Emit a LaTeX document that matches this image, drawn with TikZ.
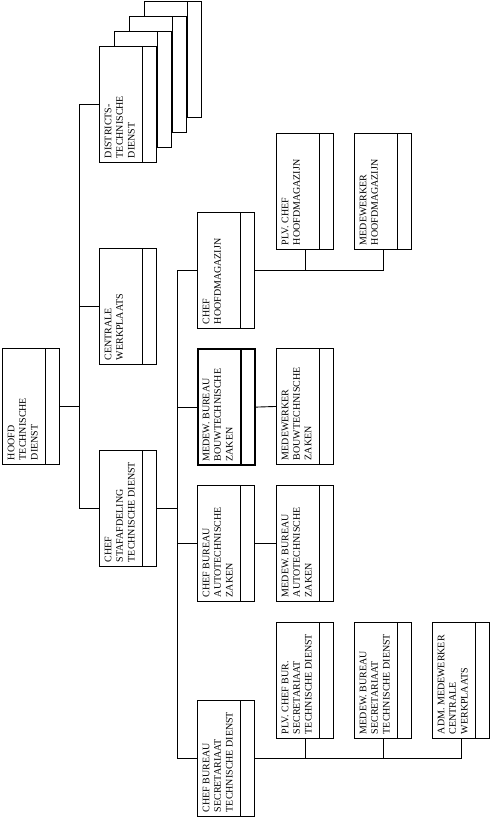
\documentclass[tikz,border=0pt]{standalone}
\usepackage{fontspec}
\setmainfont{Liberation Serif}
\begin{document}
\begin{tikzpicture}[x=1pt,y=-1pt,
  ln/.style={line width=0.9pt},
  box/.style={draw, fill=white, line width=0.9pt, minimum width=57pt, minimum height=116pt,
    inner sep=0pt, anchor=north west,
    path picture={\draw[line width=0.9pt] ([xshift=-14pt]path picture bounding box.north east) -- ([xshift=-14pt]path picture bounding box.south east);}},
  thickbox/.style={draw, fill=white, line width=2.2pt, minimum width=57pt, minimum height=116pt,
    inner sep=0pt, anchor=north west,
    path picture={\draw[line width=2.2pt] ([xshift=-14pt]path picture bounding box.north east) -- ([xshift=-14pt]path picture bounding box.south east);}},
  txt/.style={rotate=90, anchor=north west, align=left, inner sep=0pt,
    font=\fontsize{10}{11.6}\selectfont}
]
\useasboundingbox (0,0) rectangle (491,818);

% boxes
\node[box] (hoofd) at (2,348) {};
\node[box] (d4) at (144,1) {};
\node[box] (d3) at (129,16) {};
\node[box] (d2) at (114,31) {};
\node[box] (dist) at (99,46) {};
\node[box] (cw) at (99,248) {};
\node[box] (staf) at (99,450) {};
\node[box] (hm) at (197,212) {};
\node[thickbox] (bouw) at (197,348) {};
\node[box] (auto) at (197,485) {};
\node[box] (sec) at (197,700) {};
\node[box] (plvhm) at (276,133) {};
\node[box] (medhm) at (354,133) {};
\node[box] (medbouw) at (276,348) {};
\node[box] (medauto) at (276,485) {};
\node[box] (plvsec) at (276,622) {};
\node[box] (medsec) at (354,622) {};
\node[box] (adm) at (432,622) {};

% texts
\node[txt] (hoofd-t) at ([xshift=5.5pt,yshift=4.5pt]hoofd.south west) {HOOFD\\TECHNISCHE\\DIENST};
\node[txt] (dist-t) at ([xshift=5.5pt,yshift=4.5pt]dist.south west) {DISTRICTS-\\TECHNISCHE\\DIENST};
\node[txt] (cw-t) at ([xshift=5.5pt,yshift=4.5pt]cw.south west) {CENTRALE\\WERKPLAATS};
\node[txt] (staf-t) at ([xshift=5.5pt,yshift=4.5pt]staf.south west) {CHEF\\STAFAFDELING\\TECHNISCHE DIENST};
\node[txt] (hm-t) at ([xshift=5.5pt,yshift=4.5pt]hm.south west) {CHEF\\HOOFDMAGAZIJN};
\node[txt] (bouw-t) at ([xshift=5.5pt,yshift=4.5pt]bouw.south west) {MEDEW. BUREAU\\BOUWTECHNISCHE\\ZAKEN};
\node[txt] (auto-t) at ([xshift=5.5pt,yshift=4.5pt]auto.south west) {CHEF BUREAU\\AUTOTECHNISCHE\\ZAKEN};
\node[txt] (sec-t) at ([xshift=5.5pt,yshift=4.5pt]sec.south west) {CHEF BUREAU\\SECRETARIAAT\\TECHNISCHE DIENST};
\node[txt] (plvhm-t) at ([xshift=5.5pt,yshift=4.5pt]plvhm.south west) {PLV. CHEF\\HOOFDMAGAZIJN};
\node[txt] (medhm-t) at ([xshift=5.5pt,yshift=4.5pt]medhm.south west) {MEDEWERKER\\HOOFDMAGAZIJN};
\node[txt] (medbouw-t) at ([xshift=5.5pt,yshift=4.5pt]medbouw.south west) {MEDEWERKER\\BOUWTECHNISCHE\\ZAKEN};
\node[txt] (medauto-t) at ([xshift=5.5pt,yshift=4.5pt]medauto.south west) {MEDEW. BUREAU\\AUTOTECHNISCHE\\ZAKEN};
\node[txt] (plvsec-t) at ([xshift=5.5pt,yshift=4.5pt]plvsec.south west) {PLV. CHEF BUR.\\SECRETARIAAT\\TECHNISCHE DIENST};
\node[txt] (medsec-t) at ([xshift=5.5pt,yshift=4.5pt]medsec.south west) {MEDEW. BUREAU\\SECRETARIAAT\\TECHNISCHE DIENST};
\node[txt] (adm-t) at ([xshift=5.5pt,yshift=4.5pt]adm.south west) {ADM. MEDEWERKER\\CENTRALE\\WERKPLAATS};

% connectors
\coordinate (bus1) at (79,0);
\coordinate (bus2) at (177,0);
\draw[ln] (dist.west) -| (bus1 |- staf.west) -- (staf.west);
\draw[ln] (cw.west) -- (cw.west -| bus1);
\draw[ln] (hoofd.east) -- (hoofd.east -| bus1);

\draw[ln] (hm.west) -| (bus2 |- sec.west) -- (sec.west);
\draw[ln] (staf.east) -- (staf.east -| bus2);
\draw[ln] (bouw.west) -- (bouw.west -| bus2);
\draw[ln] (auto.west) -- (auto.west -| bus2);

\draw[ln] (hm.east) -| (medhm.south);
\draw[ln] (plvhm.south) -- (plvhm.south |- hm.east);
\draw[ln] (bouw.east) -- (medbouw.west);
\draw[ln] (auto.east) -- (medauto.west);
\draw[ln] (sec.east) -| (adm.south);
\draw[ln] (plvsec.south) -- (plvsec.south |- sec.east);
\draw[ln] (medsec.south) -- (medsec.south |- sec.east);
\end{tikzpicture}
\end{document}
